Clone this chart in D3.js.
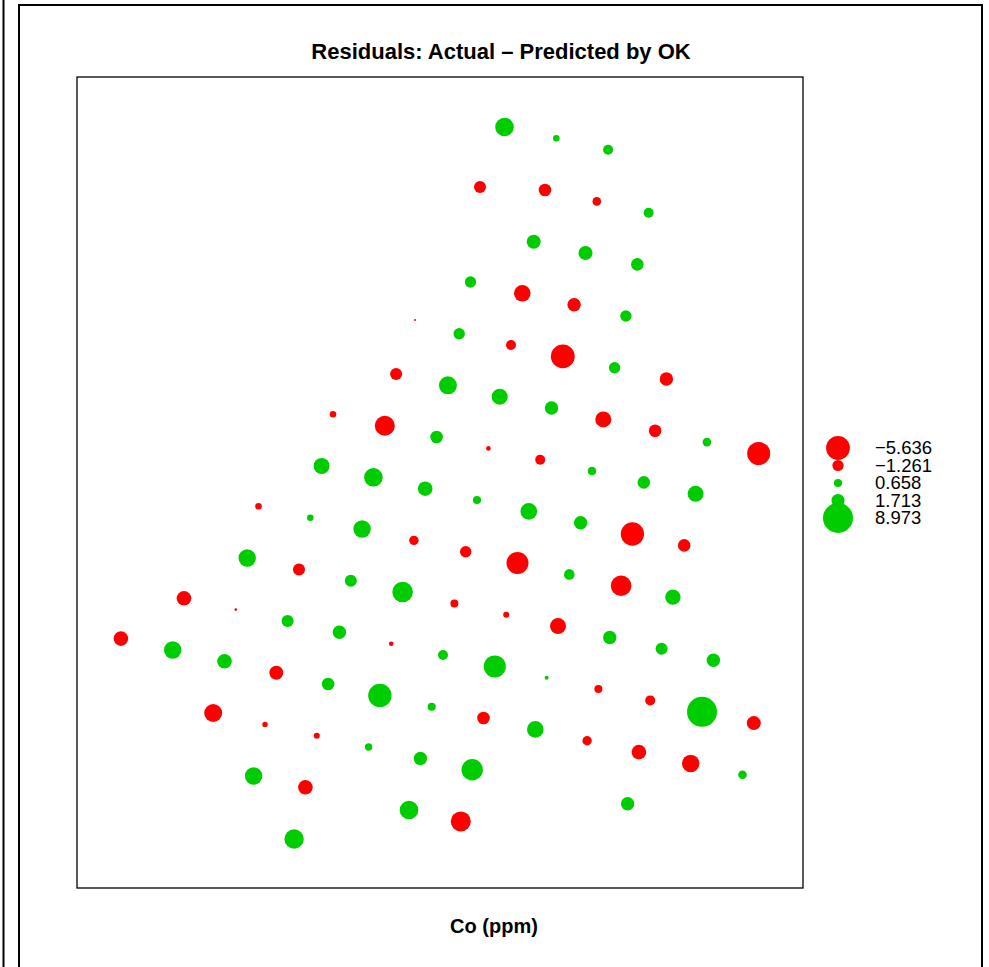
<!DOCTYPE html>
<html>
<head>
<meta charset="utf-8">
<script src="https://cdn.jsdelivr.net/npm/d3@7"></script>
<style>
body { margin: 0; background: white; }
text { font-family: "Liberation Sans", Arial, Helvetica, sans-serif; }
</style>
</head>
<body>
<script>
// sample locations (m) and OK residuals
var east = [4275, 4793, 5311, 4030, 4680, 5198, 5716, 4567, 5085, 5603,
    3935, 4453, 4971, 5489, 3380, 3822, 4340, 4858, 5376, 5894,
    3191, 3709, 4227, 4745, 5263, 5781, 6299, 6817, 2560, 3078,
    3596, 4114, 4632, 5150, 5668, 6186, 2446, 2964, 3482, 4000,
    4518, 5036, 5554, 6072, 1815, 2333, 2851, 3369, 3887, 4405,
    4923, 5441, 5959, 1702, 2220, 2738, 3256, 3774, 4292, 4810,
    5328, 5846, 6364, 1070, 1588, 2106, 2624, 3142, 3660, 4178,
    4696, 5214, 5732, 6250, 6768, 439, 957, 1475, 1993, 2511,
    3029, 3547, 4065, 4583, 5101, 5619, 6137, 6655, 1362, 1880,
    2398, 2916, 3434, 3952, 5506, 1766, 2284, 3320, 3838, 2171];
var north = [7610, 7497, 7383, 7010, 6980, 6866, 6753, 6463, 6350, 6236,
    6060, 5947, 5833, 5720, 5680, 5543, 5430, 5316, 5203, 5090,
    5140, 5027, 4913, 4800, 4686, 4572, 4459, 4345, 4737, 4623,
    4510, 4396, 4283, 4170, 4056, 3942, 4220, 4107, 3993, 3880,
    3766, 3653, 3540, 3426, 3817, 3703, 3590, 3476, 3363, 3250,
    3136, 3022, 2909, 3300, 3186, 3073, 2960, 2846, 2732, 2619,
    2505, 2392, 2278, 2897, 2784, 2670, 2557, 2443, 2330, 2216,
    2103, 1990, 1876, 1762, 1649, 2494, 2380, 2267, 2153, 2040,
    1926, 1813, 1700, 1586, 1472, 1359, 1245, 1132, 1750, 1636,
    1523, 1410, 1296, 1182, 842, 1120, 1007, 780, 666, 490];
var resid = [3.45, 0.43, 1.0, -1.44, -1.58, -0.74, 1.0, 1.95, 1.95, 1.58,
    1.30, -2.75, -1.79, 1.30, -0.04, 1.30, -1.0, -5.636, 1.30, -1.79,
    -1.44, 3.23, 2.55, 1.79, -2.55, -1.58, 0.74, -5.3, -0.43, -3.99,
    1.58, -0.21, -1.0, 0.74, 1.58, 2.55, 2.55, 3.45, 2.13, 0.658,
    2.75, 1.79, -5.4, -1.58, -0.43, 0.43, 3.02, -0.88, -1.30, -4.83,
    1.12, -4.23, 2.37, 3.02, -1.44, 1.44, 4.23, -0.64, -0.36, -2.55,
    1.79, 1.44, 1.79, -2.13, -0.07, 1.44, 1.79, -0.21, 1.0, 4.83,
    0.16, -0.64, -1.0, 8.973, -1.95, -2.13, 3.02, 2.13, -1.95, 1.58,
    5.46, 0.658, -1.58, 2.75, -0.88, -2.13, -3.02, 0.74, -3.23, -0.29,
    -0.36, 0.55, 1.79, 4.56, 1.79, 3.02, -2.13, 3.45, -3.99, 3.75];
var keyValues = [-5.636, -1.261, 0.658, 1.713, 8.973];
var keyLabels = ["\u22125.636", "\u22121.261", "0.658", "1.713", "8.973"];
var title = "Residuals: Actual \u2013 Predicted by OK";
var xlabel = "Co (ppm)";

var width = 989, height = 967;
var panel = {left: 77, top: 77, right: 803, bottom: 888};
var negCol = "#ff0000", posCol = "#00cd00";

var points = east.map(function (e, i) {
    return {x: e, y: north[i], z: resid[i]};
});

var svg = d3.select("body")
    .append("svg")
    .attr("width", width)
    .attr("height", height);

svg.append("rect")
    .attr("width", width)
    .attr("height", height)
    .style("fill", "white");

// outer page lines
svg.append("line")
    .attr("x1", 3.5).attr("x2", 3.5)
    .attr("y1", 0).attr("y2", height)
    .style("stroke", "black")
    .style("stroke-width", 2);
svg.append("polyline")
    .attr("points", "19," + height + " 19,5 982,5 982," + height)
    .style("fill", "none")
    .style("stroke", "black")
    .style("stroke-width", 2);

var x = d3.scaleLinear().domain([0, 7260]).range([panel.left, panel.right]);
var y = d3.scaleLinear().domain([0, 8110]).range([panel.bottom, panel.top]);
var r = d3.scaleSqrt().domain([0, d3.max(resid, Math.abs)]).range([0, 15]);

svg.append("rect")
    .attr("x", panel.left)
    .attr("y", panel.top)
    .attr("width", panel.right - panel.left)
    .attr("height", panel.bottom - panel.top)
    .style("fill", "none")
    .style("stroke", "black")
    .style("stroke-width", 1.3);

svg.append("g")
    .selectAll("circle")
    .data(points)
    .enter()
    .append("circle")
    .attr("cx", function (d) { return x(d.x); })
    .attr("cy", function (d) { return y(d.y); })
    .attr("r", function (d) { return r(Math.abs(d.z)); })
    .style("fill", function (d) { return d.z < 0 ? negCol : posCol; });

svg.append("text")
    .attr("x", 501)
    .attr("y", 59)
    .attr("text-anchor", "middle")
    .style("font-size", "22px")
    .style("font-weight", "bold")
    .text(title);

svg.append("text")
    .attr("x", 494)
    .attr("y", 933)
    .attr("text-anchor", "middle")
    .style("font-size", "20px")
    .style("font-weight", "bold")
    .text(xlabel);

// key
var keyY = d3.scalePoint().domain(d3.range(keyValues.length)).range([448, 518]);
var key = svg.append("g");
key.selectAll("circle")
    .data(keyValues)
    .enter()
    .append("circle")
    .attr("cx", 838)
    .attr("cy", function (d, i) { return keyY(i); })
    .attr("r", function (d) { return r(Math.abs(d)); })
    .style("fill", function (d) { return d < 0 ? negCol : posCol; });
key.selectAll("text")
    .data(keyLabels)
    .enter()
    .append("text")
    .attr("x", 875)
    .attr("y", function (d, i) { return keyY(i); })
    .attr("dy", "0.35em")
    .style("font-size", "18.5px")
    .text(function (d) { return d; });
</script>
</body>
</html>
